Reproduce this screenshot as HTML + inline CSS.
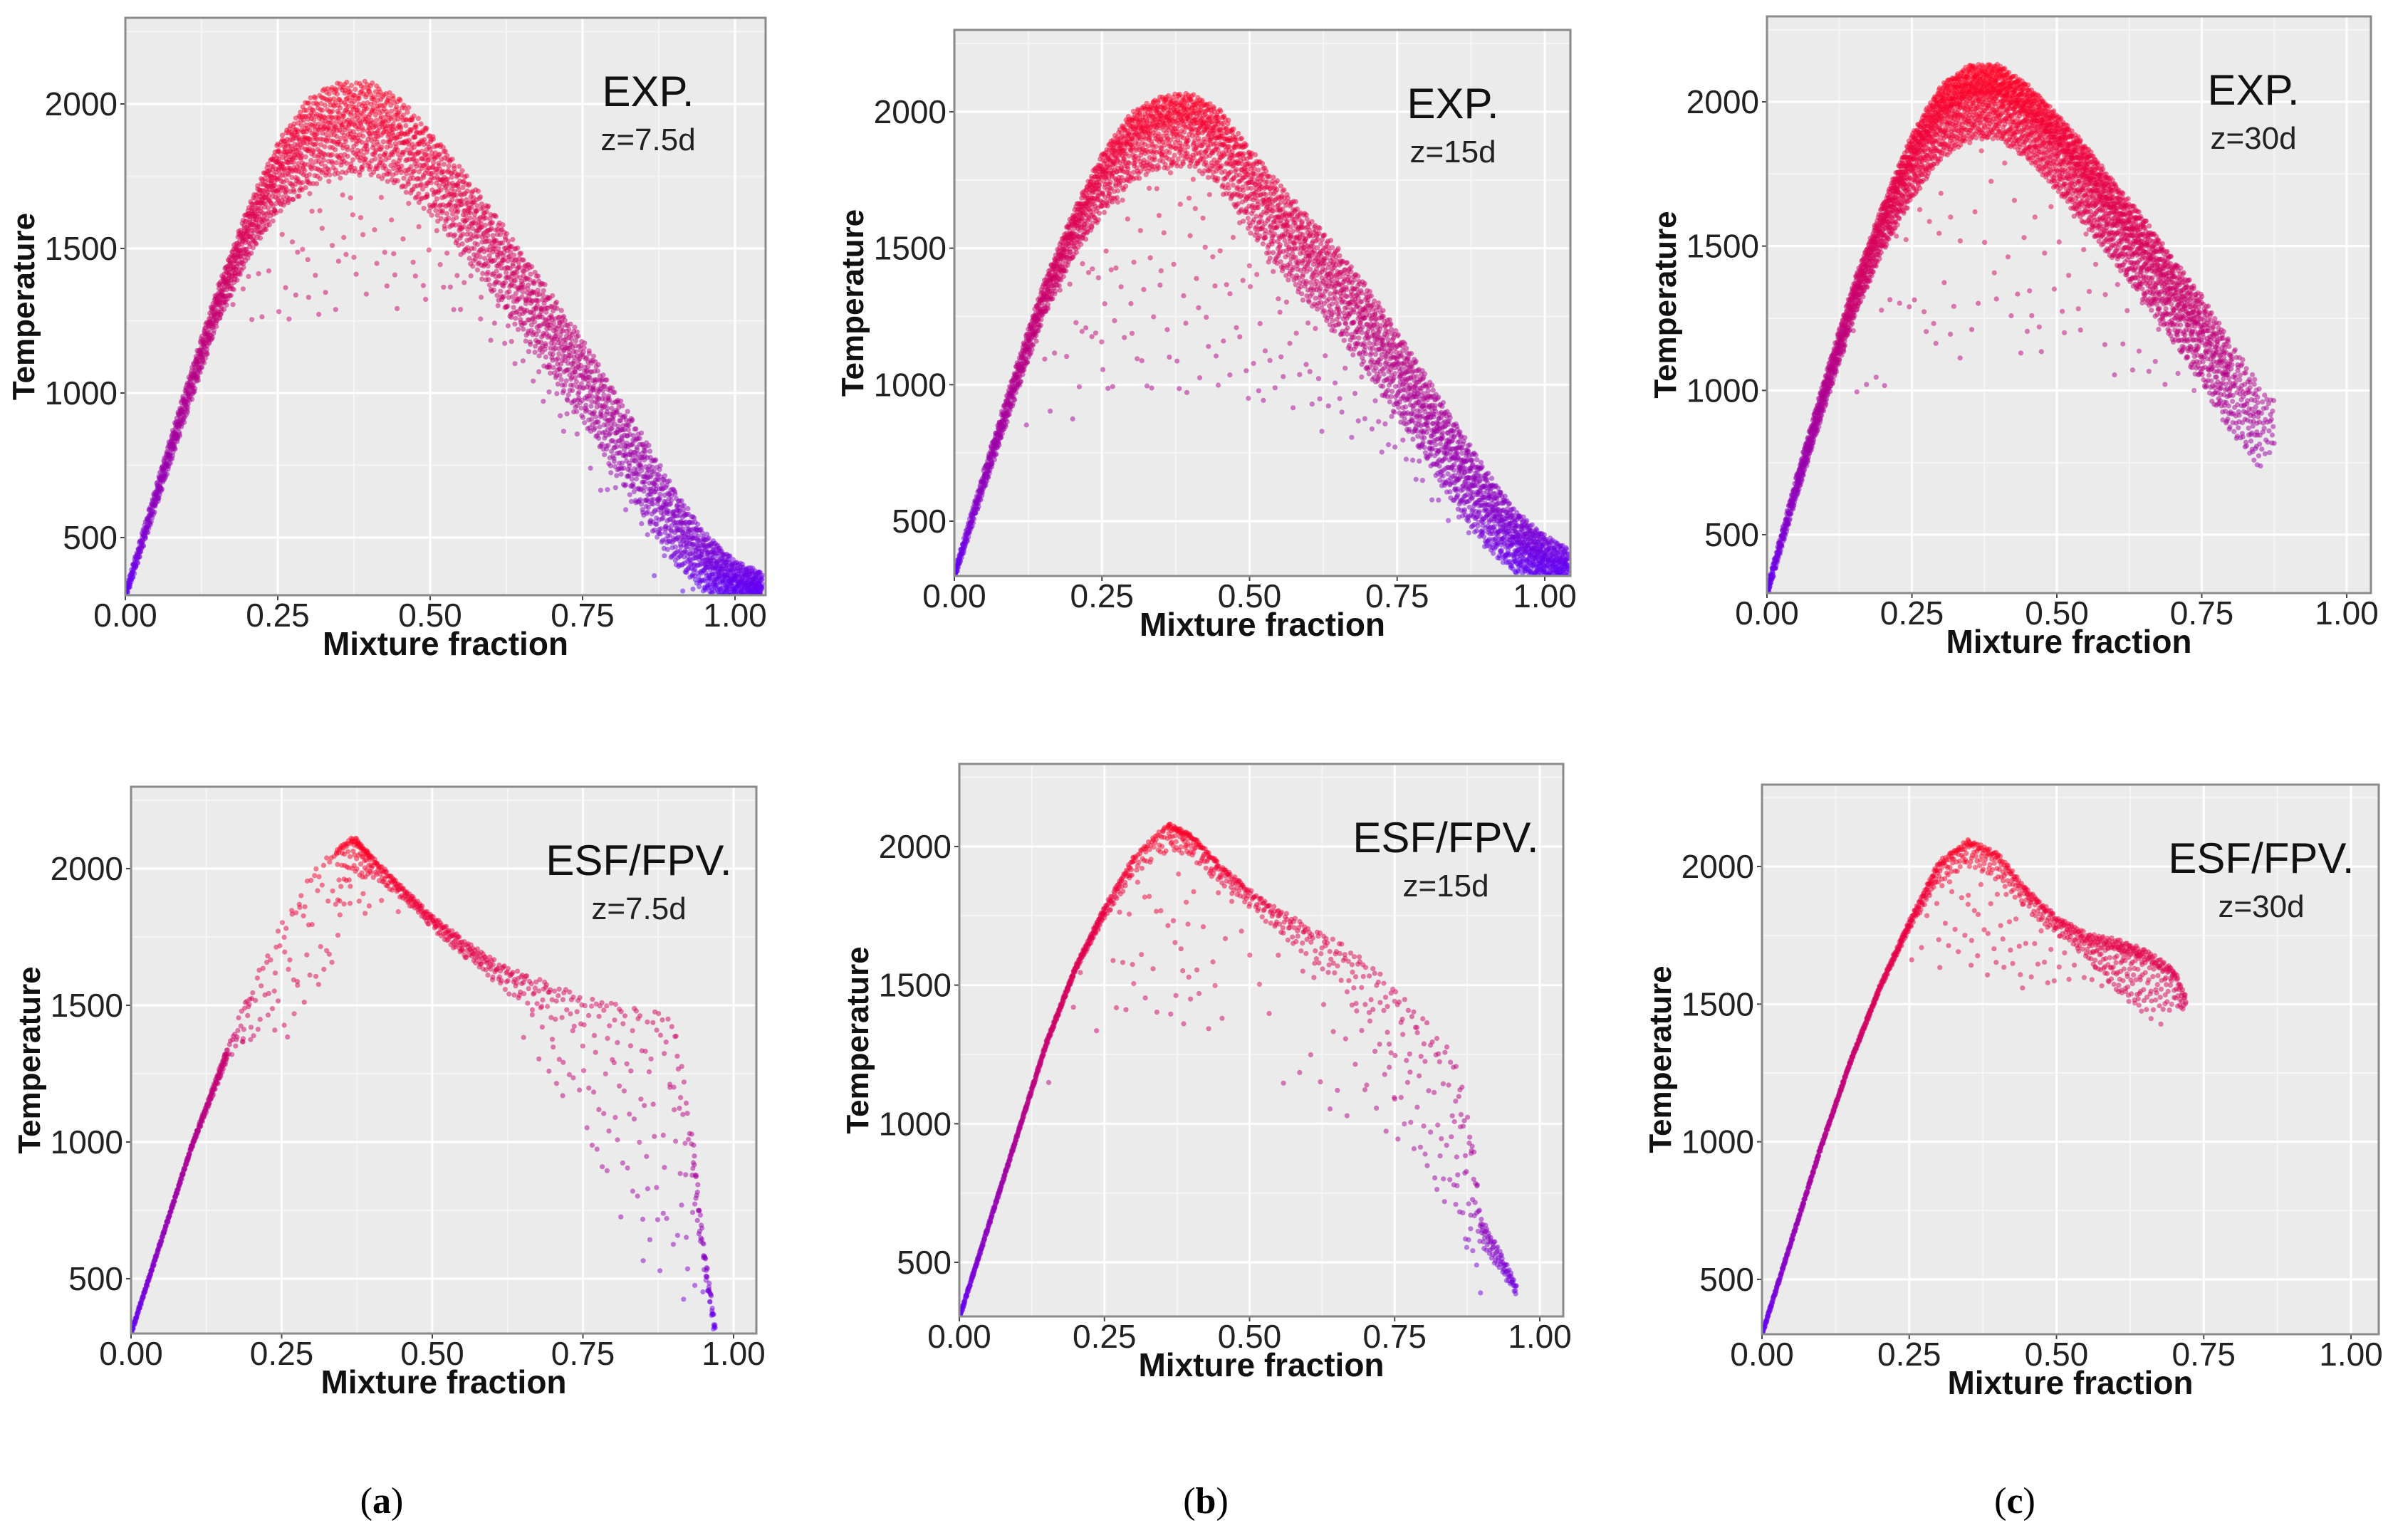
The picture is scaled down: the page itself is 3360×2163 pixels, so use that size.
<!DOCTYPE html>
<html><head><meta charset="utf-8"><style>
html,body{margin:0;padding:0;background:#fff;}
svg text{font-family:"Liberation Sans",sans-serif;}
</style></head><body>
<svg id="fig" xmlns="http://www.w3.org/2000/svg" width="3360" height="2158" viewBox="0 0 3360 2158">
<rect width="3360" height="2158" fill="#fff"/>
<text x="536" y="2125" font-size="52" text-anchor="middle" style="font-family:'Liberation Serif',serif">(<tspan font-weight="bold">a</tspan>)</text>
<text x="1693" y="2125" font-size="52" text-anchor="middle" style="font-family:'Liberation Serif',serif">(<tspan font-weight="bold">b</tspan>)</text>
<text x="2829" y="2125" font-size="52" text-anchor="middle" style="font-family:'Liberation Serif',serif">(<tspan font-weight="bold">c</tspan>)</text>
</svg>
<script>
const xTicks=[0,0.25,0.5,0.75,1.0];
const xTickLabels=['0.00','0.25','0.50','0.75','1.00'];
const yTicks=[500,1000,1500,2000];
const yTickLabels=['500','1000','1500','2000'];

// Top (a) EXP z=7.5d
const aExpZ=[0,.05,.1,.15,.2,.25,.3,.35,.4,.45,.5,.55,.6,.65,.7,.75,.8,.85,.9,.95,1.0,1.045];
const aExpT=[300,640,980,1300,1560,1760,1880,1930,1930,1880,1780,1650,1510,1360,1210,1060,890,720,550,420,350,330];
const aExpUp=[20,40,50,60,80,110,140,150,150,140,130,130,130,130,130,130,130,130,120,100,70,50];
const aExpDown=[20,40,60,70,100,140,170,170,170,170,160,160,160,160,160,160,160,150,140,110,60,40];
const aExpN=[160,200,200,200,200,200,180,180,180,160,160,160,160,160,160,160,160,170,200,240,200];
const aExpSparseN=[0,0,0,2,6,10,12,12,10,8,8,6,6,6,6,4,4,3,2,0,0];
const aExpSparseDepth=[0,0,0,300,500,600,700,650,600,500,400,350,300,300,300,300,300,300,200,0,0];

// Top (b) EXP z=15d
const bExpZ=[0,.05,.1,.15,.2,.25,.3,.35,.4,.45,.5,.55,.6,.65,.7,.75,.8,.85,.9,.95,1.0,1.04];
const bExpT=[300,650,990,1310,1560,1760,1900,1960,1970,1900,1740,1600,1480,1360,1220,1060,890,720,560,430,370,340];
const bExpUp=[20,40,50,60,70,90,100,100,100,110,130,140,140,140,140,140,140,140,130,110,80,60];
const bExpDown=[20,40,60,70,100,140,160,170,170,170,180,180,180,180,180,180,170,170,160,120,70,50];
const bExpN=[160,200,200,200,200,200,200,200,200,180,180,180,180,180,180,200,200,220,240,260,160];
const bExpSparseN=[0,0,2,6,12,14,14,14,14,14,12,12,10,8,8,6,4,2,0,0,0];
const bExpSparseDepth=[0,0,300,500,700,900,1000,1000,1000,900,800,700,600,500,400,300,300,200,0,0,0];

// Top (c) EXP z=30d
const cExpZ=[0,.05,.1,.15,.2,.25,.3,.35,.4,.45,.5,.55,.6,.65,.7,.75,.8,.85,.875];
const cExpT=[300,660,1000,1320,1580,1800,1960,2030,2030,1960,1860,1740,1610,1480,1340,1200,1030,890,880];
const cExpUp=[20,40,50,60,70,90,100,100,100,100,100,110,110,120,120,130,140,130,90];
const cExpDown=[20,40,60,70,100,140,160,160,160,160,170,170,170,170,170,180,180,160,90];
const cExpN=[200,260,260,260,280,300,300,300,300,300,300,300,280,260,240,200,120,30];
const cExpSparseN=[0,0,2,4,6,8,8,8,8,8,8,6,6,4,2,0,0,0];
const cExpSparseDepth=[0,0,300,500,700,800,900,900,900,800,700,600,500,400,300,0,0,0];

// Bottom (a) ESF/FPV z=7.5d
const aSimZ=[0,.05,.1,.16,.2,.25,.3,.34,.37,.4,.45,.5,.55,.6,.65,.7,.75,.8,.85,.9,.93,.95,.97];
const aSimT=[300,640,980,1330,1520,1740,1930,2050,2100,2030,1920,1810,1720,1640,1580,1540,1500,1470,1440,1400,1000,600,300];
const aSimUp=[8,8,8,20,60,60,60,20,20,15,15,20,25,30,40,40,40,40,40,80,80,40,30];
const aSimDown=[8,8,8,30,150,250,300,200,150,60,30,30,40,50,80,100,120,150,200,200,150,60,30];
const aSimN=[120,120,150,25,20,20,15,40,60,60,60,60,50,40,30,20,15,15,15,15,30,40];
const aSimSparseN=[0,0,0,2,4,6,6,4,4,2,0,0,0,0,6,10,14,16,16,10,4,0];
const aSimSparseDepth=[0,0,0,100,300,400,400,300,300,200,0,0,0,0,300,400,600,800,900,900,500,0];

// Bottom (b) ESF/FPV z=15d
const bSimZ=[0,.05,.1,.15,.2,.25,.3,.36,.4,.45,.5,.55,.6,.65,.7,.75,.8,.85,.88,.9,.93,.96];
const bSimT=[300,630,960,1290,1560,1770,1950,2070,2030,1920,1830,1750,1680,1610,1540,1440,1300,1150,900,620,520,400];
const bSimUp=[8,8,8,10,10,15,15,15,15,15,15,25,40,50,60,60,80,120,120,40,30,20];
const bSimDown=[8,8,8,10,10,30,60,80,70,60,50,60,80,120,150,200,250,300,250,60,50,20];
const bSimN=[120,120,120,120,100,60,50,60,60,50,40,35,30,25,20,20,20,20,20,40,40];
const bSimSparseN=[0,0,0,2,2,8,12,12,8,4,4,4,6,8,10,10,10,8,4,0,0];
const bSimSparseDepth=[0,0,0,300,400,500,700,700,700,600,600,600,600,600,500,500,500,400,300,0,0];

// Bottom (c) ESF/FPV z=30d
const cSimZ=[0,.05,.1,.15,.2,.25,.3,.35,.4,.45,.5,.55,.6,.65,.7,.72];
const cSimT=[300,640,980,1290,1560,1790,2000,2080,2030,1900,1800,1730,1700,1660,1600,1510];
const cSimUp=[8,8,8,8,10,15,20,20,20,20,20,30,40,40,30,20];
const cSimDown=[8,8,8,8,10,20,60,80,80,60,50,60,150,200,120,30];
const cSimN=[120,120,120,120,100,80,60,60,60,60,60,80,100,80,30];
const cSimSparseN=[0,0,0,0,0,4,12,14,12,8,6,6,4,2,0];
const cSimSparseDepth=[0,0,0,0,0,200,400,450,400,300,200,150,100,0,0];

const panels=[
 {id:'exp-7-5d',title:'EXP.',sub:'z=7.5d',L:176,R:1075,T:25,B:836,x1:1032,y2000:146,y500:755,
  z:aExpZ,t:aExpT,up:aExpUp,down:aExpDown,n:aExpN,sn:aExpSparseN,sd:aExpSparseDepth},
 {id:'exp-15d',title:'EXP.',sub:'z=15d',L:1340,R:2205,T:42,B:809,x1:2169,y2000:157,y500:732,
  z:bExpZ,t:bExpT,up:bExpUp,down:bExpDown,n:bExpN,sn:bExpSparseN,sd:bExpSparseDepth},
 {id:'exp-30d',title:'EXP.',sub:'z=30d',L:2481,R:3329,T:23,B:833,x1:3295,y2000:143,y500:751,
  z:cExpZ,t:cExpT,up:cExpUp,down:cExpDown,n:cExpN,sn:cExpSparseN,sd:cExpSparseDepth},
 {id:'esf-7-5d',title:'ESF/FPV.',sub:'z=7.5d',L:184,R:1062,T:1105,B:1873,x1:1030,y2000:1220,y500:1796,
  z:aSimZ,t:aSimT,up:aSimUp,down:aSimDown,n:aSimN,sn:aSimSparseN,sd:aSimSparseDepth},
 {id:'esf-15d',title:'ESF/FPV.',sub:'z=15d',L:1347,R:2195,T:1073,B:1849,x1:2162,y2000:1189,y500:1773,
  z:bSimZ,t:bSimT,up:bSimUp,down:bSimDown,n:bSimN,sn:bSimSparseN,sd:bSimSparseDepth},
 {id:'esf-30d',title:'ESF/FPV.',sub:'z=30d',L:2474,R:3340,T:1102,B:1874,x1:3301,y2000:1217,y500:1797,
  z:cSimZ,t:cSimT,up:cSimUp,down:cSimDown,n:cSimN,sn:cSimSparseN,sd:cSimSparseDepth}
];

const NS='http://www.w3.org/2000/svg';
const svg=document.getElementById('fig');
function mk(tag,attrs,parent){const e=document.createElementNS(NS,tag);for(const k in attrs)e.setAttribute(k,attrs[k]);(parent||svg).appendChild(e);return e;}
function halton(i,b){let f=1,r=0;while(i>0){f/=b;r+=f*(i%b);i=Math.floor(i/b);}return r;}
function color(T){let c=(T-300)/1800;c=Math.max(0,Math.min(1,c));c=Math.pow(c,0.7);return 'rgb('+Math.round(90+165*c)+',0,'+Math.round(255-220*c)+')';}

panels.forEach((p,pi)=>{
  const xs=z=>p.L+z*(p.x1-p.L);
  const ys=t=>p.y500+(t-500)*(p.y2000-p.y500)/1500;
  const g=mk('g',{});
  
  
  const bg=mk('rect',{x:p.L,y:p.T,width:p.R-p.L,height:p.B-p.T,fill:'#ebebeb'},g);
  
  
  for(let i=0;i<xTicks.length;i++){
    const xm=xTicks[i]+0.125; if(xs(xm)<p.R){const l=mk('line',{x1:xs(xm),x2:xs(xm),y1:p.T,y2:p.B,stroke:'#f5f5f5','stroke-width':2},g);
    
    }
  }
  for(let t=250;t<=2250;t+=500){ if(ys(t)>p.T&&ys(t)<p.B){const l=mk('line',{x1:p.L,x2:p.R,y1:ys(t),y2:ys(t),stroke:'#f5f5f5','stroke-width':2},g);
    
    }}
  xTicks.forEach((v,i)=>{
    const l=mk('line',{x1:xs(v),x2:xs(v),y1:p.T,y2:p.B,stroke:'#fff','stroke-width':3},g);
    
    
    const tk=mk('line',{x1:xs(v),x2:xs(v),y1:p.B,y2:p.B+7,stroke:'#444','stroke-width':2},g);
    
    
    const tx=mk('text',{x:xs(v),y:p.B+44,'font-size':46,'text-anchor':'middle',fill:'#222'},g);
    
    
    tx.textContent=xTickLabels[i];
  });
  yTicks.forEach((v,i)=>{
    const l=mk('line',{x1:p.L,x2:p.R,y1:ys(v),y2:ys(v),stroke:'#fff','stroke-width':3},g);
    
    
    const tk=mk('line',{x1:p.L-7,x2:p.L,y1:ys(v),y2:ys(v),stroke:'#444','stroke-width':2},g);
    
    
    const tx=mk('text',{x:p.L-11,y:ys(v)+16,'font-size':46,'text-anchor':'end',fill:'#222'},g);
    
    
    tx.textContent=yTickLabels[i];
  });
  const cp=mk('clipPath',{id:'clip'+pi},g);
  mk('rect',{x:p.L,y:p.T,width:p.R-p.L,height:p.B-p.T},cp);
  const pts=mk('g',{'clip-path':'url(#clip'+pi+')','fill-opacity':0.5},g);
  
  
  let gi=17+pi*7919;
  for(let i=0;i<p.n.length;i++){
    const z0=p.z[i],z1=p.z[i+1];
    for(let k=0;k<p.n[i];k++){
      gi++;
      const f=halton(gi,2);
      const z=z0+f*(z1-z0);
      const t0=p.t[i]+f*(p.t[i+1]-p.t[i]);
      const up=p.up[i]+f*(p.up[i+1]-p.up[i]);
      const dn=p.down[i]+f*(p.down[i+1]-p.down[i]);
      const v=halton(gi,5)*2-1;
      const s=Math.sign(v)*Math.pow(Math.abs(v),1.15);
      const T=t0+(s>0?s*up:s*dn);
      const c=mk('circle',{cx:xs(z).toFixed(1),cy:ys(T).toFixed(1),r:3.6,fill:color(T)},pts);
      
      
    }
    for(let k=0;k<p.sn[i];k++){
      gi++;
      const f=halton(gi,3);
      const z=z0+f*(z1-z0);
      const t0=p.t[i]+f*(p.t[i+1]-p.t[i]);
      const T=t0-p.down[i]-halton(gi,7)*Math.max(0,p.sd[i]-p.down[i]);
      const c=mk('circle',{cx:xs(z).toFixed(1),cy:ys(T).toFixed(1),r:3.6,fill:color(T)},pts);
      
      
    }
  }
  const bd=mk('rect',{x:p.L,y:p.T,width:p.R-p.L,height:p.B-p.T,fill:'none',stroke:'#8a8a8a','stroke-width':3},g);
  
  
  const xt=mk('text',{x:(p.L+p.R)/2,y:p.B+84,'font-size':46,'font-weight':'bold','text-anchor':'middle',fill:'#111'},g);
  
  
  xt.textContent='Mixture fraction';
  const cy=(p.T+p.B)/2, cx=p.L-128;
  const yt=mk('text',{x:cx,y:cy,'font-size':44,'font-weight':'bold','text-anchor':'middle',fill:'#111',transform:'rotate(-90 '+cx+' '+cy+')'},g);
  
  
  yt.textContent='Temperature';
  const t1=mk('text',{x:p.R-165,y:p.T+124,'font-size':60,'text-anchor':'middle',fill:'#111'},g);
  
  
  t1.textContent=p.title;
  const t2=mk('text',{x:p.R-165,y:p.T+186,'font-size':44,'text-anchor':'middle',fill:'#222'},g);
  
  
  t2.textContent=p.sub;
});
</script>
</body></html>
